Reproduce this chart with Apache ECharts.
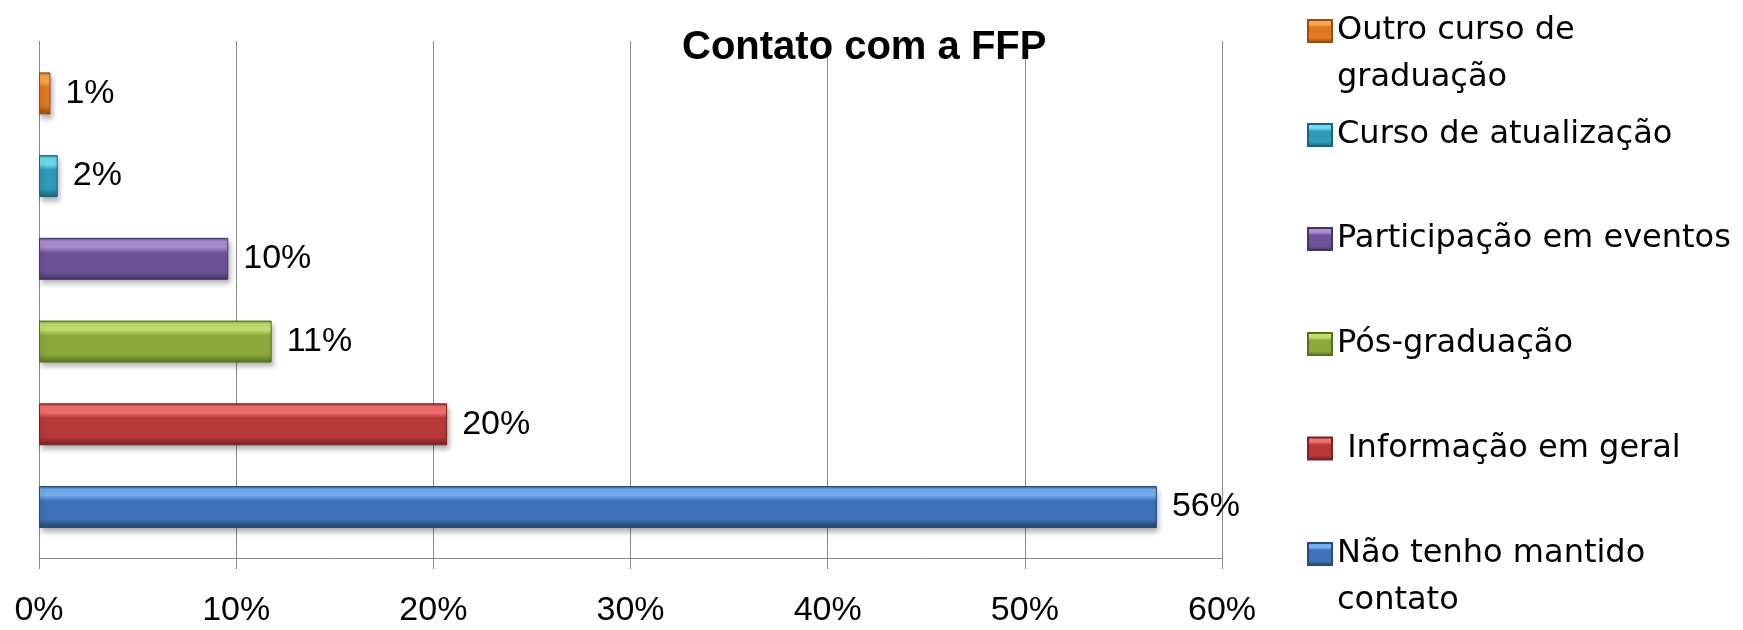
<!DOCTYPE html>
<html><head><meta charset="utf-8">
<script src="https://cdn.jsdelivr.net/npm/echarts@6/dist/echarts.min.js"></script>
<style>html,body{margin:0;padding:0;background:#fff}#c{width:1743px;height:630px}</style>
</head><body><div id="c"></div>
<script>
// Categories, bottom to top
const categories = ['Não tenho mantido contato', ' Informação em geral', 'Pós-graduação', 'Participação em eventos', 'Curso de atualização', 'Outro curso de graduação'];
// Bar lengths (%)
const values = [56.7, 20.7, 11.8, 9.6, 0.95, 0.58];
// Data label texts as printed
const labelTexts = ['56%', '20%', '11%', '10%', '2%', '1%'];
// Legend texts (with line breaks as shown)
const legendTexts = ['Não tenho mantido\ncontato', ' Informação em geral', 'Pós-graduação', 'Participação em eventos', 'Curso de atualização', 'Outro curso de\ngraduação'];
const xTicks = [0, 10, 20, 30, 40, 50, 60];
// colour sets: [highlight, main, dark, border]
const palettes = [
  ['#74b0f0', '#3d72b8', '#2c4e80', '#2a4a7a'],
  ['#f27070', '#b83838', '#8e2a2a', '#7a2222'],
  ['#c2e070', '#8aaa3c', '#6a8a2a', '#56701e'],
  ['#ad90d2', '#6e5298', '#54407a', '#463466'],
  ['#6fdcf0', '#2e9ab8', '#227890', '#1c6478'],
  ['#f8a850', '#e07820', '#b05c14', '#984e10']
];

const FONT_N = "'Liberation Sans', Arial, sans-serif";
const FONT_L = "'DejaVu Sans', sans-serif";

function grad(p) {
  return new echarts.graphic.LinearGradient(0, 0, 0, 1, [
    {offset: 0, color: p[2]},
    {offset: 0.08, color: p[0]},
    {offset: 0.22, color: p[0]},
    {offset: 0.35, color: p[1]},
    {offset: 0.8, color: p[1]},
    {offset: 0.92, color: p[2]},
    {offset: 1, color: p[3]}
  ]);
}

const series = categories.map((name, i) => ({
  name: name,
  type: 'bar',
  xAxisIndex: 1,
  yAxisIndex: 1,
  stack: 'all',
  barWidth: 42,
  data: categories.map((c, j) => j === i ? values[i] : '-'),
  itemStyle: {
    color: grad(palettes[i]),
    borderColor: palettes[i][3],
    borderWidth: 1,
    shadowColor: 'rgba(0,0,0,0.3)',
    shadowBlur: 5,
    shadowOffsetX: 2,
    shadowOffsetY: 4
  },
  label: {
    show: true,
    position: 'right',
    distance: 15,
    formatter: () => labelTexts[i],
    fontFamily: FONT_N,
    fontSize: 34,
    color: '#000'
  }
}));

// legend layout: icon centres (top to bottom)
const legendOrder = [5, 4, 3, 2, 1, 0];
const iconCenters = [31, 135, 239, 344, 448.5, 554];
const LH = 47;
const legends = legendOrder.map((idx, k) => {
  const twoLine = legendTexts[idx].indexOf('\n') >= 0;
  const h = twoLine ? 3 * LH : LH;
  return {
    orient: 'vertical',
    left: 1307,
    top: iconCenters[k] - h / 2,
    padding: 0,
    icon: 'rect',
    itemWidth: 24,
    itemHeight: 22,
    selectedMode: false,
    data: [categories[idx]],
    formatter: () => (twoLine ? '\n' : '') + legendTexts[idx],
    textStyle: {fontFamily: FONT_L, fontSize: 32, lineHeight: LH, color: '#000'}
  };
});

const chart = echarts.init(document.getElementById('c'), null, {renderer: 'canvas'});
chart.setOption({
  animation: false,
  backgroundColor: '#fff',
  title: {
    text: 'Contato com a FFP',
    left: 682,
    top: 28,
    padding: 0,
    textStyle: {fontFamily: FONT_N, fontWeight: 'bold', fontSize: 40, color: '#000'}
  },
  legend: legends,
  grid: [
    {left: 39, right: 521, top: 41, bottom: 72},
    {left: 39, right: 521, top: 52, bottom: 81.6}
  ],
  xAxis: [
    {
      type: 'value', gridIndex: 0, min: xTicks[0], max: xTicks[xTicks.length - 1], interval: 10,
      axisLine: {show: true, lineStyle: {color: '#888888', width: 1}},
      axisTick: {show: true, length: 11, lineStyle: {color: '#888888'}},
      splitLine: {show: true, lineStyle: {color: '#888888', width: 1}},
      axisLabel: {formatter: '{value}%', fontFamily: FONT_N, fontSize: 34, color: '#000', margin: 36}
    },
    {
      type: 'value', gridIndex: 1, min: xTicks[0], max: xTicks[xTicks.length - 1], interval: 10,
      show: false
    }
  ],
  yAxis: [
    {type: 'category', gridIndex: 0, data: categories, show: false},
    {type: 'category', gridIndex: 1, data: categories, show: false}
  ],
  series: series
});
</script></body></html>
